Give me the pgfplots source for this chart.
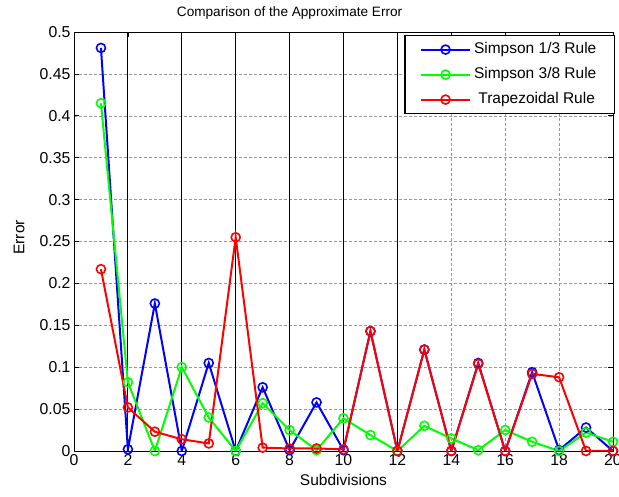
\documentclass[border=0pt]{standalone}
\usepackage{pgfplots}
\pgfplotsset{compat=1.18}
\usepackage{fontspec}
\setmainfont{Liberation Sans}
\begin{document}
\begin{tikzpicture}[x=1pt,y=1pt]
\useasboundingbox (-74pt,-46pt) rectangle (545pt,451pt);
\begin{axis}[
  at={(0pt,0pt)}, anchor=south west,
  scale only axis, width=539pt, height=419pt,
  xmin=0, xmax=20, ymin=0, ymax=0.5,
  xtick={0,2,...,20},
  ytick={0,0.05,...,0.5},
  minor xtick={14,16,18},
  /pgf/number format/assume math mode=true,
  /pgf/number format/fixed, /pgf/number format/precision=2,
  yticklabel style={/pgf/number format/fixed, /pgf/number format/precision=2},
  tick label style={font=\fontsize{15.8}{18}\selectfont},
  tick align=inside, major tick length=5pt, minor tick length=0pt,
  tick style={black, line width=0.6pt},
  axis line style={black, line width=0.8pt},
  xmajorgrids=false, ymajorgrids=true, xminorgrids=true,
  major grid style={densely dashed, gray!80, line width=0.5pt},
  minor grid style={densely dashed, gray!80, line width=0.5pt},
  extra x ticks={2,4,...,12}, extra x tick labels={},
  extra x tick style={grid=major, major grid style={solid, black, line width=0.8pt}, major tick length=0pt},
  xlabel={Subdivisions}, ylabel={Error},
  label style={font=\fontsize{15.5}{18}\selectfont},
  xlabel style={at={(axis description cs:0.5,0)}, anchor=north, yshift=-20pt},
  ylabel style={at={(axis description cs:0,0.51)}, anchor=south, yshift=46pt},
  title={Comparison of the Approximate Error},
  title style={font=\fontsize{13.6}{16}\selectfont, at={(axis description cs:0.4,1)}, anchor=south, yshift=3pt},
  legend style={at={(axis description cs:1,1)}, anchor=north east, xshift=2pt, yshift=-3pt,
    draw=black, line width=1.2pt, fill=white,
    font=\fontsize{15.5}{18}\selectfont,
    inner xsep=15pt, inner ysep=4pt, row sep=5pt,
    nodes={inner sep=3pt, text height=11pt, text depth=3pt}},
  legend cell align=left,
  legend image code/.code={\draw[mark repeat=2,mark phase=2,#1] plot coordinates {(0pt,0pt) (24.5pt,0pt) (49pt,0pt)};},
  every axis plot/.append style={line width=2pt, mark=o, mark size=4.5pt, mark options={line width=1.6pt, solid}},
]
\addplot[blue] coordinates {(1,0.481) (2,0.002) (3,0.176) (4,0) (5,0.105) (6,0) (7,0.076) (8,0.001) (9,0.058) (10,0.001) (11,0.143) (12,0) (13,0.121) (14,0) (15,0.105) (16,0) (17,0.094) (18,0.001) (19,0.028) (20,0)};
\addlegendentry{Simpson 1/3 Rule}
\addplot[green] coordinates {(1,0.415) (2,0.082) (3,0) (4,0.100) (5,0.040) (6,0) (7,0.057) (8,0.025) (9,0.001) (10,0.039) (11,0.019) (12,0) (13,0.030) (14,0.015) (15,0.001) (16,0.025) (17,0.011) (18,0) (19,0.022) (20,0.011)};
\addlegendentry{Simpson 3/8 Rule}
\addplot[red] coordinates {(1,0.217) (2,0.052) (3,0.023) (4,0.014) (5,0.009) (6,0.255) (7,0.004) (8,0.003) (9,0.003) (10,0.002) (11,0.143) (12,0) (13,0.121) (14,0) (15,0.104) (16,0) (17,0.092) (18,0.088) (19,0) (20,0)};
\addlegendentry{\ Trapezoidal Rule}
\end{axis}
\end{tikzpicture}
\end{document}
